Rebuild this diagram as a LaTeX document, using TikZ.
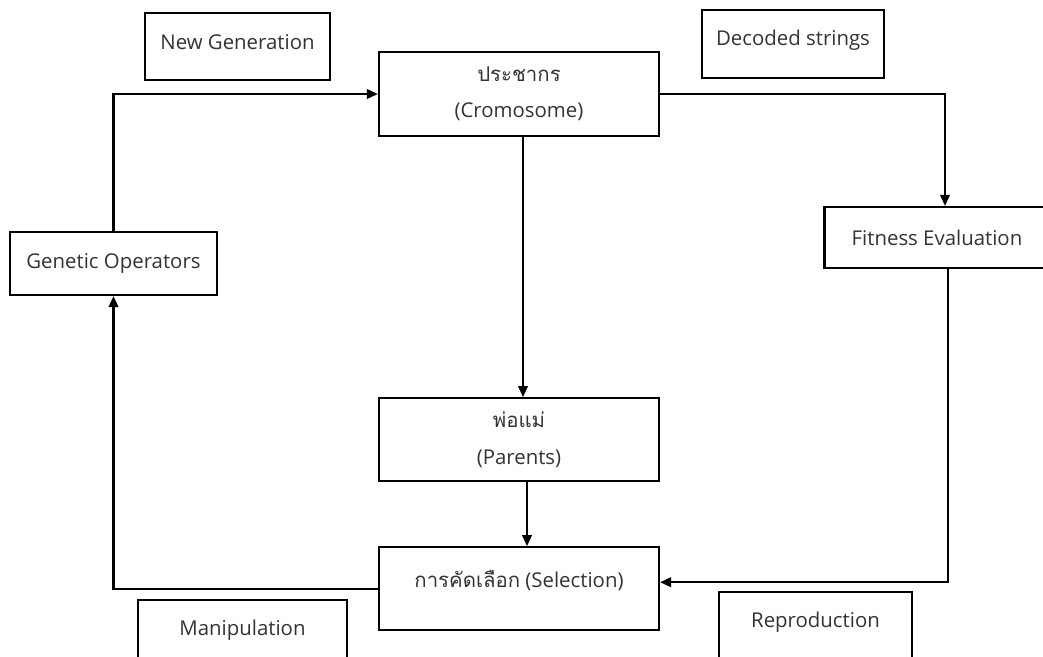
\documentclass[tikz,border=0pt]{standalone}
\usepackage{fontspec}
\setmainfont{Open Sans}
\newfontfamily\thaifont[Script=Thai]{Loma}
\usepackage{tikz}
\usetikzlibrary{arrows.meta, positioning}

\begin{document}
\begin{tikzpicture}[
        node distance=1.2cm,
        font=\fontsize{11.6pt}{13.6pt}\selectfont,
        box_node/.style={
            rectangle,
            draw=black,
            line width=1.2pt,
            text=black!80,
            align=center,
            minimum width=5.6cm,
            minimum height=1.66cm
        },
        tag_node/.style={
            rectangle,
            draw=black,
            line width=1.2pt,
            text=black!80,
            align=center,
            minimum height=1.34cm
        },
        arrow/.style={
            -{Triangle[length=0.22cm, width=0.19cm]},
            draw=black,
            line width=1.2pt
        }
    ]

    \useasboundingbox (0,0) rectangle (20.86,-13.14);

    % Population (Top)
    \node[box_node, minimum height=1.68cm] (chrom) at (10.38,-1.88) {{\thaifont ประชากร} \\[0.25cm] (Cromosome)};

    % Parents and Selection (Centre)
    \node[box_node, below=5.2cm of chrom] (parents) {{\thaifont พ่อแม่} \\[0.25cm] (Parents)};
    \node[box_node, below=1.28cm of parents, text depth=0.38cm] (select) {{\thaifont การคัดเลือก} (Selection)};

    % Side boxes
    \node[tag_node, minimum width=4.5cm, minimum height=1.22cm] (fitness) at (18.74,-4.75) {Fitness Evaluation};
    \node[tag_node, minimum width=4.14cm, minimum height=1.26cm] (genop) at (2.27,-5.27) {Genetic Operators};

    % Captions
    \node[tag_node, minimum width=3.7cm, text depth=0.18cm] (newgen) at (4.75,-0.93) {New Generation};
    \node[tag_node, minimum width=3.64cm, minimum height=1.36cm, text depth=0.24cm] (decoded) at (15.86,-0.88) {Decoded strings};
    \node[tag_node, minimum width=4.18cm, text depth=0.22cm] (manip) at (4.85,-12.67) {Manipulation};
    \node[tag_node, minimum width=3.86cm, text depth=0.22cm] (repro) at (16.31,-12.51) {Reproduction};

    % Arrows
    \draw[arrow] (genop.north) |- (chrom.west);
    \draw[arrow] (chrom.east) -| ([xshift=0.16cm]fitness.north);
    \draw[arrow] ([xshift=0.08cm]chrom.south) -- ([xshift=0.08cm]parents.north);
    \draw[arrow] ([xshift=0.16cm]parents.south) -- ([xshift=0.16cm]select.north);
    \draw[arrow] ([xshift=0.22cm]fitness.south) |- ([yshift=0.13cm]select.east);
    \draw[arrow] (select.west) -| (genop.south);

\end{tikzpicture}
\end{document}
